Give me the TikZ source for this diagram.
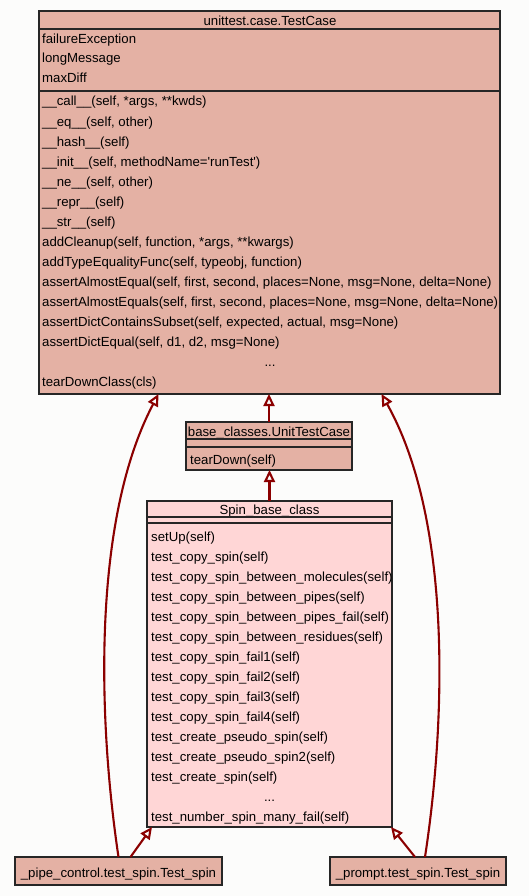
\documentclass[tikz,border=0pt]{standalone}
\usepackage{fontspec}
\setmainfont{Liberation Sans}
\usetikzlibrary{arrows.meta}
\definecolor{clsfill}{HTML}{E4B1A4}
\definecolor{spinfill}{HTML}{FFD6D6}
\definecolor{inhcol}{HTML}{8B0000}
\definecolor{bordcol}{HTML}{262626}
\definecolor{bgcol}{HTML}{FCFCFB}
\begin{document}
\begin{tikzpicture}[x=1pt,y=-1pt,
  box/.style={draw=bordcol, line width=1.2pt, inner sep=0pt, outer sep=0pt, anchor=north west},
  txt/.style={font=\fontsize{13.2}{15}\selectfont, inner sep=0pt, text height=12pt, text depth=1pt, anchor=west},
  ttl/.style={txt, anchor=center},
  sepline/.style={draw=bordcol, line width=1.2pt},
  inh/.style={draw=inhcol, line width=2.1pt, -{Triangle[open, length=12pt, width=11pt, fill=bgcol]}}]
\fill[bgcol] (0,0) rectangle (529,896);
\useasboundingbox (0,0) rectangle (529,896);

% unittest.case.TestCase
\node[box, fill=clsfill, minimum width=461pt, minimum height=383pt] (tc) at (39,11) {};
\node[ttl] (tct) at (270,20) {unittest.case.TestCase};
\draw[sepline] (39,29) -- (500,29);
\draw[sepline] (39,91) -- (500,91);
\foreach \s [count=\i] in {failureException, longMessage, maxDiff}
  \node[txt] (tca\i) at (42,{38+19.5*(\i-1)}) {\s};
\foreach \s [count=\i] in {
  {\_\_call\_\_(self, *args, **kwds)},
  {\_\_eq\_\_(self, other)},
  {\_\_hash\_\_(self)},
  {\_\_init\_\_(self, methodName=\textquotesingle runTest\textquotesingle)},
  {\_\_ne\_\_(self, other)},
  {\_\_repr\_\_(self)},
  {\_\_str\_\_(self)},
  {addCleanup(self, function, *args, **kwargs)},
  {addTypeEqualityFunc(self, typeobj, function)},
  {assertAlmostEqual(self, first, second, places=None, msg=None, delta=None)},
  {assertAlmostEquals(self, first, second, places=None, msg=None, delta=None)},
  {assertDictContainsSubset(self, expected, actual, msg=None)},
  {assertDictEqual(self, d1, d2, msg=None)}}
  \node[txt] (tcm\i) at (42,{100.5+20.05*(\i-1)}) {\s};
\node[ttl] (tcdots) at (270,361) {...};
\node[txt] (tcm15) at (42,381) {tearDownClass(cls)};

% base_classes.UnitTestCase
\node[box, fill=clsfill, minimum width=166pt, minimum height=48pt] (utc) at (186,422) {};
\node[ttl] (utct) at (269,430.5) {base\_classes.UnitTestCase};
\draw[sepline] (186,439) -- (352,439);
\draw[sepline] (186,447) -- (352,447);
\node[txt] (utcm1) at (190,459) {tearDown(self)};

% Spin_base_class
\node[box, fill=spinfill, minimum width=245pt, minimum height=326pt] (spin) at (147,501) {};
\node[ttl] (spint) at (269.5,509) {Spin\_base\_class};
\draw[sepline] (147,517) -- (392,517);
\draw[sepline] (147,523) -- (392,523);
\foreach \s [count=\i] in {
  {setUp(self)},
  {test\_copy\_spin(self)},
  {test\_copy\_spin\_between\_molecules(self)},
  {test\_copy\_spin\_between\_pipes(self)},
  {test\_copy\_spin\_between\_pipes\_fail(self)},
  {test\_copy\_spin\_between\_residues(self)},
  {test\_copy\_spin\_fail1(self)},
  {test\_copy\_spin\_fail2(self)},
  {test\_copy\_spin\_fail3(self)},
  {test\_copy\_spin\_fail4(self)},
  {test\_create\_pseudo\_spin(self)},
  {test\_create\_pseudo\_spin2(self)},
  {test\_create\_spin(self)}}
  \node[txt] (spinm\i) at (151,{536+20*(\i-1)}) {\s};
\node[ttl] (spindots) at (269.5,796) {...};
\node[txt] (spinm15) at (151,816) {test\_number\_spin\_many\_fail(self)};

% bottom classes
\node[box, fill=clsfill, minimum width=207pt, minimum height=28pt] (pc) at (15,857) {};
\node[ttl] (pct) at (118.5,871.5) {\_pipe\_control.test\_spin.Test\_spin};
\node[box, fill=clsfill, minimum width=176pt, minimum height=28pt] (pr) at (330,857) {};
\node[ttl] (prt) at (418,871.5) {\_prompt.test\_spin.Test\_spin};

% inheritance connectors
\draw[inh] (utc.north) -- (utc.north |- tc.south);
\draw[inh] (spin.north) -- (spin.north |- utc.south);
\draw[inh] ([xshift=12pt]pc.north) -- ([xshift=5pt]spin.south west);
\draw[inh] ([xshift=-3pt]pr.north) -- ([xshift=-1pt]spin.south east);
\draw[inh] ([xshift=0pt]pc.north) .. controls (98,720) and (92,520) .. ([xshift=-111pt]tc.south);
\draw[inh] ([xshift=7pt]pr.north) .. controls (446,720) and (452,520) .. ([xshift=112pt]tc.south);
\end{tikzpicture}
\end{document}
